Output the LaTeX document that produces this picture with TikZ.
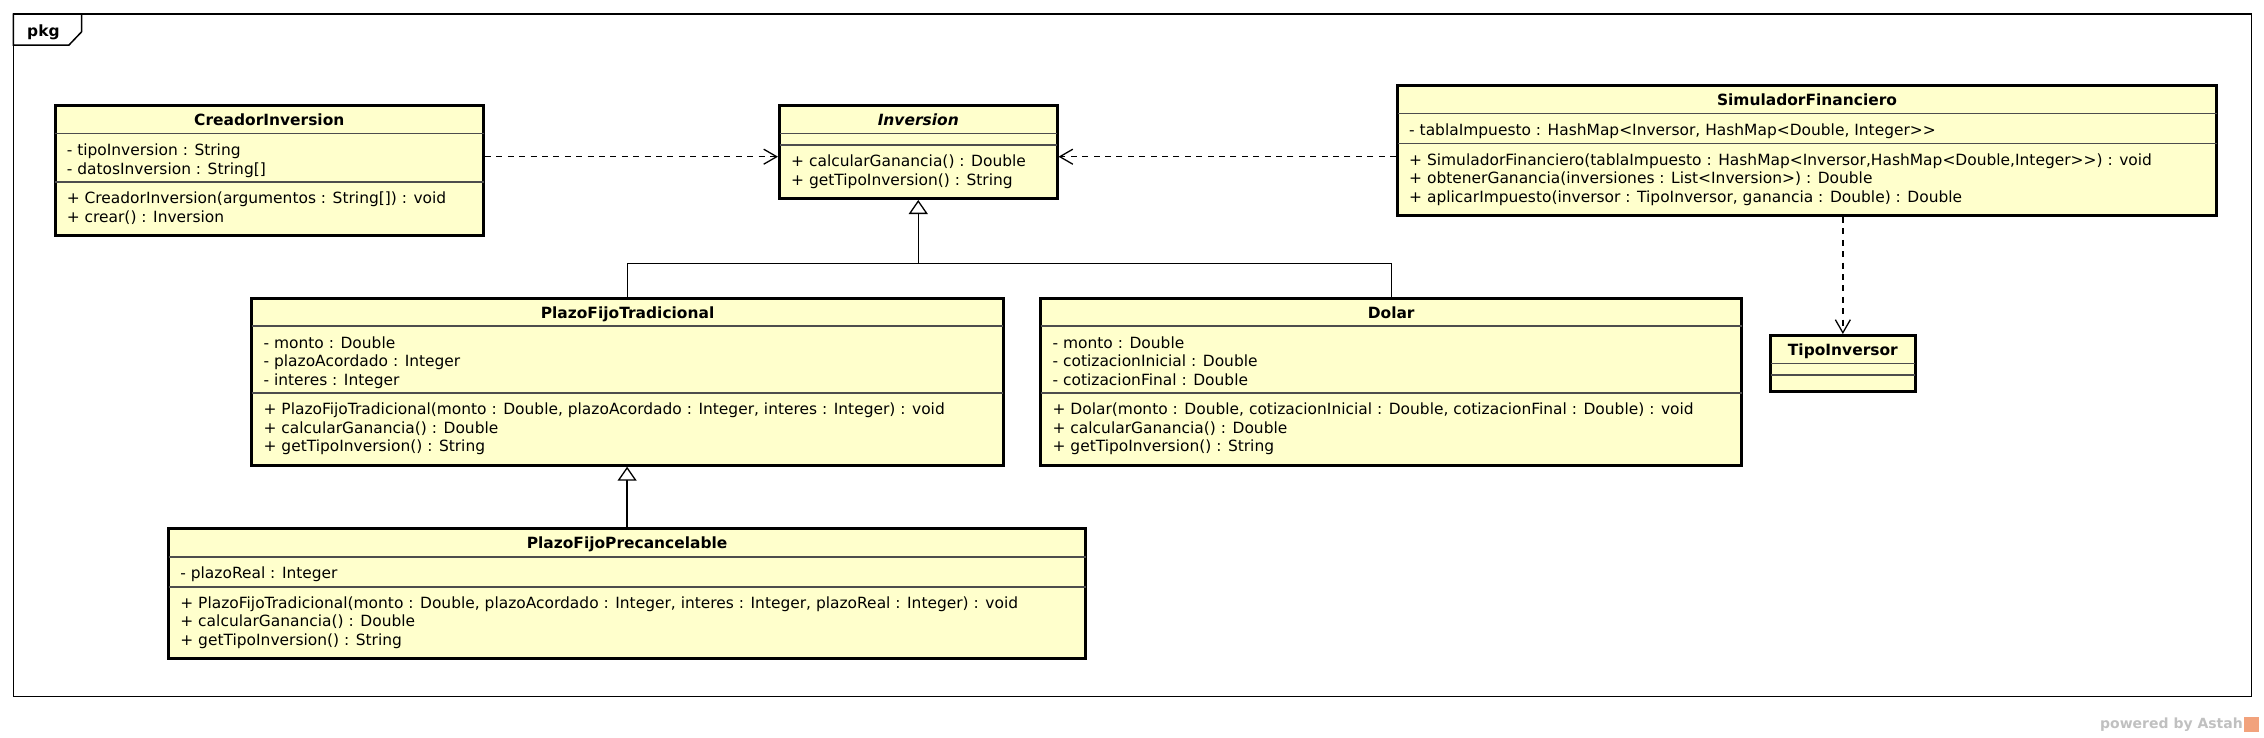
\documentclass[tikz,border=0pt]{standalone}
\usepackage{fontspec}
\setmainfont{DejaVu Sans}
\usetikzlibrary{arrows.meta}

\definecolor{classfill}{HTML}{FFFFCC}
\definecolor{seprule}{HTML}{4D4D4D}
\definecolor{astahgray}{HTML}{C0C0C0}
\definecolor{astahorange}{HTML}{F2A27C}

\tikzset{
  classbox/.style={draw, line width=3pt, fill=classfill, rectangle, inner sep=0pt, anchor=north west},
  classname/.style={font=\bfseries\fontsize{15.45}{18.5}\selectfont, anchor=base, inner sep=0pt},
  member/.style={font=\fontsize{15.45}{18.5}\selectfont, anchor=base west, inner sep=0pt},
  sepline/.style={line width=1.5pt, draw=seprule},
  depend/.style={line width=1.3pt, dash pattern=on 6pt off 5.4pt, -{Straight Barb[length=13pt, width=15pt]}},
  general/.style={line width=1.3pt},
  generalhead/.style={line width=1.3pt, -{Triangle[length=14pt, width=19pt, fill=white]}},
}

\begin{document}
\begin{tikzpicture}[x=1pt, y=-1pt]
\useasboundingbox (0,0) rectangle (2264,737);

% package frame
\draw[line width=1.5pt] (13.3,14) rectangle (2251.7,696.7);
\draw[line width=1.5pt, fill=white] (13.3,14) -- (81.7,14) -- (81.7,31.7) -- (69,45) -- (13.3,45) -- cycle;
\node[classname, anchor=base west] (pkgname) at (27,36) {pkg};

% CreadorInversion
\node[classbox, minimum width=428.4pt, minimum height=130pt] (creador) at (53.6,104) {};
\node[classname] (creador-name) at ([yshift=-21.5pt]creador.north) {CreadorInversion};
\draw[sepline] ([xshift=1.5pt, yshift=-29.5pt]creador.north west) -- ([xshift=-1.5pt, yshift=-29.5pt]creador.north east);
\draw[sepline] ([xshift=1.5pt, yshift=-78pt]creador.north west) -- ([xshift=-1.5pt, yshift=-78pt]creador.north east);
\foreach \txt [count=\i] in {- tipoInversion : String, - datosInversion : String[]}
  \node[member] (creador-attr\i) at ([xshift=13pt, yshift={-51.5pt-(\i-1)*18.5pt}]creador.north west) {\txt};
\foreach \txt [count=\i] in {+ CreadorInversion(argumentos : String[]) : void, + crear() : Inversion}
  \node[member] (creador-op\i) at ([xshift=13pt, yshift={-99.5pt-(\i-1)*18.5pt}]creador.north west) {\txt};

% Inversion
\node[classbox, minimum width=277.5pt, minimum height=93pt] (inversion) at (778,104) {};
\node[classname] (inversion-name) at ([yshift=-21.5pt]inversion.north) {\itshape Inversion};
\draw[sepline] ([xshift=1.5pt, yshift=-29.5pt]inversion.north west) -- ([xshift=-1.5pt, yshift=-29.5pt]inversion.north east);
\draw[sepline] ([xshift=1.5pt, yshift=-41pt]inversion.north west) -- ([xshift=-1.5pt, yshift=-41pt]inversion.north east);
\foreach \txt [count=\i] in {+ calcularGanancia() : Double, + getTipoInversion() : String}
  \node[member] (inversion-op\i) at ([xshift=13pt, yshift={-62.5pt-(\i-1)*18.5pt}]inversion.north west) {\txt};

% SimuladorFinanciero
\node[classbox, minimum width=819pt, minimum height=130pt] (simulador) at (1396,84) {};
\node[classname] (simulador-name) at ([yshift=-21.5pt]simulador.north) {SimuladorFinanciero};
\draw[sepline] ([xshift=1.5pt, yshift=-29.5pt]simulador.north west) -- ([xshift=-1.5pt, yshift=-29.5pt]simulador.north east);
\draw[sepline] ([xshift=1.5pt, yshift=-59.5pt]simulador.north west) -- ([xshift=-1.5pt, yshift=-59.5pt]simulador.north east);
\node[member] (simulador-attr1) at ([xshift=13pt, yshift=-51.5pt]simulador.north west) {- tablaImpuesto : HashMap<Inversor, HashMap<Double, Integer>{}>};
\foreach \txt [count=\i] in {{+ SimuladorFinanciero(tablaImpuesto : HashMap<Inversor,HashMap<Double,Integer>{}>) : void},
    + obtenerGanancia(inversiones : List<Inversion>) : Double,
    {+ aplicarImpuesto(inversor : TipoInversor, ganancia : Double) : Double}}
  \node[member] (simulador-op\i) at ([xshift=13pt, yshift={-81pt-(\i-1)*18.5pt}]simulador.north west) {\txt};

% TipoInversor
\node[classbox, minimum width=144.7pt, minimum height=56pt] (tipo) at (1769,334) {};
\node[classname] (tipo-name) at ([yshift=-21.5pt]tipo.north) {TipoInversor};
\draw[sepline] ([xshift=1.5pt, yshift=-29.5pt]tipo.north west) -- ([xshift=-1.5pt, yshift=-29.5pt]tipo.north east);
\draw[sepline] ([xshift=1.5pt, yshift=-41pt]tipo.north west) -- ([xshift=-1.5pt, yshift=-41pt]tipo.north east);

% PlazoFijoTradicional
\node[classbox, minimum width=751.3pt, minimum height=167pt] (pft) at (250.4,296.7) {};
\node[classname] (pft-name) at ([yshift=-21.5pt]pft.north) {PlazoFijoTradicional};
\draw[sepline] ([xshift=1.5pt, yshift=-29.5pt]pft.north west) -- ([xshift=-1.5pt, yshift=-29.5pt]pft.north east);
\draw[sepline] ([xshift=1.5pt, yshift=-96.5pt]pft.north west) -- ([xshift=-1.5pt, yshift=-96.5pt]pft.north east);
\foreach \txt [count=\i] in {- monto : Double, - plazoAcordado : Integer, - interes : Integer}
  \node[member] (pft-attr\i) at ([xshift=13pt, yshift={-51.5pt-(\i-1)*18.5pt}]pft.north west) {\txt};
\foreach \txt [count=\i] in {{+ PlazoFijoTradicional(monto : Double, plazoAcordado : Integer, interes : Integer) : void},
    + calcularGanancia() : Double, + getTipoInversion() : String}
  \node[member] (pft-op\i) at ([xshift=13pt, yshift={-118pt-(\i-1)*18.5pt}]pft.north west) {\txt};

% Dolar
\node[classbox, minimum width=700.6pt, minimum height=167pt] (dolar) at (1039.4,296.7) {};
\node[classname] (dolar-name) at ([yshift=-21.5pt]dolar.north) {Dolar};
\draw[sepline] ([xshift=1.5pt, yshift=-29.5pt]dolar.north west) -- ([xshift=-1.5pt, yshift=-29.5pt]dolar.north east);
\draw[sepline] ([xshift=1.5pt, yshift=-96.5pt]dolar.north west) -- ([xshift=-1.5pt, yshift=-96.5pt]dolar.north east);
\foreach \txt [count=\i] in {- monto : Double, - cotizacionInicial : Double, - cotizacionFinal : Double}
  \node[member] (dolar-attr\i) at ([xshift=13pt, yshift={-51.5pt-(\i-1)*18.5pt}]dolar.north west) {\txt};
\foreach \txt [count=\i] in {{+ Dolar(monto : Double, cotizacionInicial : Double, cotizacionFinal : Double) : void},
    + calcularGanancia() : Double, + getTipoInversion() : String}
  \node[member] (dolar-op\i) at ([xshift=13pt, yshift={-118pt-(\i-1)*18.5pt}]dolar.north west) {\txt};

% PlazoFijoPrecancelable
\node[classbox, minimum width=916.8pt, minimum height=130pt] (pfp) at (167.2,527.3) {};
\node[classname] (pfp-name) at ([yshift=-21.5pt]pfp.north) {PlazoFijoPrecancelable};
\draw[sepline] ([xshift=1.5pt, yshift=-29.5pt]pfp.north west) -- ([xshift=-1.5pt, yshift=-29.5pt]pfp.north east);
\draw[sepline] ([xshift=1.5pt, yshift=-59.5pt]pfp.north west) -- ([xshift=-1.5pt, yshift=-59.5pt]pfp.north east);
\node[member] (pfp-attr1) at ([xshift=13pt, yshift=-51.5pt]pfp.north west) {- plazoReal : Integer};
\foreach \txt [count=\i] in {{+ PlazoFijoTradicional(monto : Double, plazoAcordado : Integer, interes : Integer, plazoReal : Integer) : void},
    + calcularGanancia() : Double, + getTipoInversion() : String}
  \node[member] (pfp-op\i) at ([xshift=13pt, yshift={-81pt-(\i-1)*18.5pt}]pfp.north west) {\txt};

% dependencies
\coordinate (deprow) at (0,156.7);
\draw[depend] (creador.east |- deprow) -- (inversion.west |- deprow);
\draw[depend] (simulador.west |- deprow) -- (inversion.east |- deprow);
\draw[depend] (simulador.south -| tipo.north) -- (tipo.north);

% generalizations
\coordinate (busrow) at (0,263.3);
\draw[general] (pft.north) |- (busrow -| dolar.north) -- (dolar.north);
\draw[generalhead] (busrow -| inversion.south) -- (inversion.south);
\draw[generalhead] (pfp.north) -- (pfp.north |- pft.south);

% footer
\node[font=\bfseries\fontsize{14}{16}\selectfont, text=astahgray, anchor=base east, inner sep=0pt] (poweredby) at (2243,728) {powered by Astah};
\node[fill=astahorange, minimum size=15pt, inner sep=0pt, anchor=north west] (astahlogo) at (2244,717) {};

\end{tikzpicture}
\end{document}
